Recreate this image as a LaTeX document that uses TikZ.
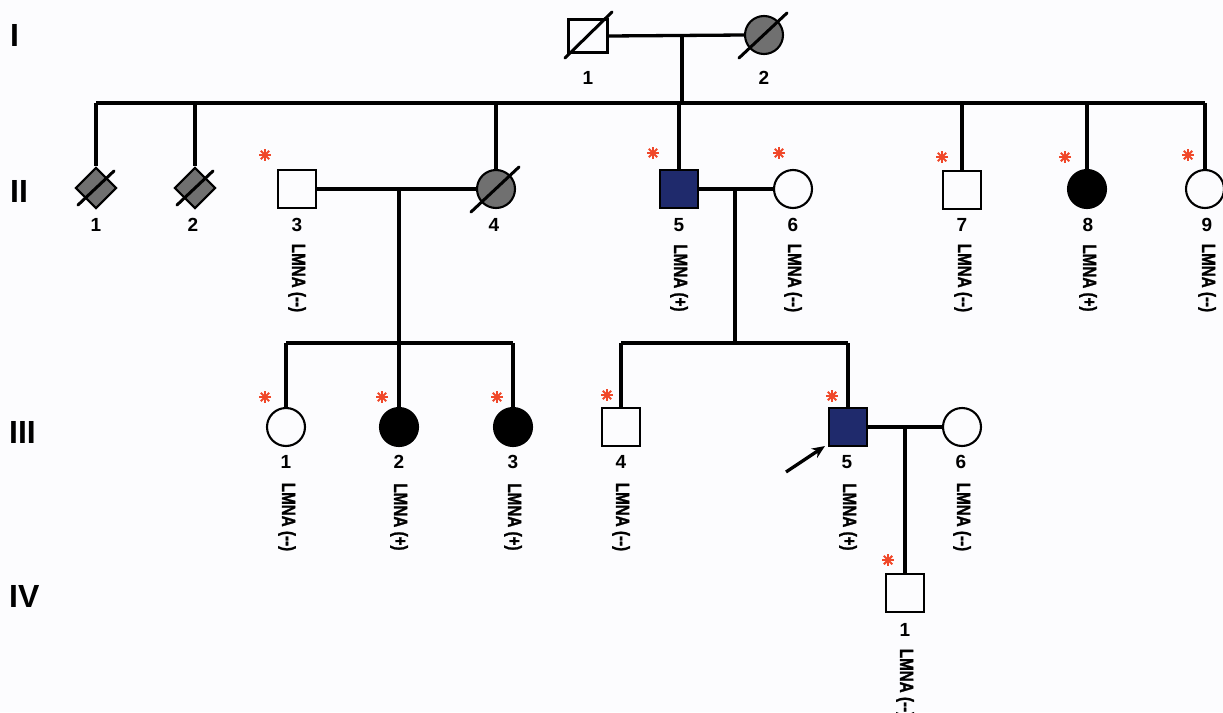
\documentclass[tikz,border=0pt]{standalone}
\usepackage{fontspec}
\setmainfont{Liberation Sans}
\newfontfamily\genofont{Liberation Sans}[BoldFeatures={FakeBold=1.5}]
\usepackage{graphicx}
\usetikzlibrary{shapes.geometric,arrows.meta}
\definecolor{bg}{HTML}{FCFCFE}
\definecolor{affgray}{HTML}{707070}
\definecolor{navy}{HTML}{1F2A6C}
\definecolor{starred}{HTML}{F0482A}
\newcommand\lmna[1]{\scalebox{0.8}[1]{LMNA (#1)}}
\tikzset{
  person/.style={draw, inner sep=0pt, line width=2.1pt, fill=bg},
  male/.style={person, rectangle, minimum width=38pt, minimum height=38pt},
  female/.style={person, circle, minimum size=38pt},
  sexunk/.style={person, diamond, minimum size=41pt, fill=affgray},
  link/.style={line width=3.3pt},
  slash/.style={line width=3pt, line cap=round},
  idnum/.style={font=\fontsize{19}{19}\selectfont\bfseries, inner sep=0pt},
  gen/.style={font=\fontsize{32}{32}\selectfont\bfseries, anchor=west, inner sep=0pt},
  geno/.style={rotate=-90, font=\genofont\fontsize{19}{19}\selectfont\bfseries, inner sep=0pt},
  redstar/.pic={\foreach \a in {0,45,90,135}
    \draw[starred, line width=2.1pt] (\a:6pt) -- (\a+180:6pt);}
}
\begin{document}
\begin{tikzpicture}[x=1pt, y=-1pt]
\useasboundingbox (0,0) rectangle (1223,712);
\fill[bg] (0,0) rectangle (1223,712);
\clip (0,0) rectangle (1223,712);

% generation labels
\node[gen] (gI)   at (10,35)  {I};
\node[gen] (gII)  at (10,191) {II};
\node[gen] (gIII) at (9,432)  {III};
\node[gen] (gIV)  at (9,596)  {IV};

% generation I
\node[male, minimum width=39pt, minimum height=33pt] (I1) at (588,36) {};
\node[female, fill=affgray] (I2) at (764,35) {};
\node[idnum] (nI1) at (588,78) {1};
\node[idnum] (nI2) at (764,78) {2};

% generation II
\node[sexunk] (II1) at (96,188) {};
\node[sexunk] (II2) at (195,188) {};
\node[male] (II3) at (297,189) {};
\node[female, fill=affgray] (II4) at (496,189) {};
\node[male, fill=navy] (II5) at (679,189) {};
\node[female] (II6) at (793,189) {};
\node[male] (II7) at (962,190) {};
\node[female, fill=black] (II8) at (1087,189) {};
\node[female] (II9) at (1205,189) {};

% generation III
\node[female] (III1) at (286,427) {};
\node[female, fill=black] (III2) at (399,427) {};
\node[female, fill=black] (III3) at (513,427) {};
\node[male] (III4) at (621,427) {};
\node[male, fill=navy] (III5) at (848,427) {};
\node[female] (III6) at (962,427) {};

% generation IV
\node[male] (IV1) at (905,593) {};

% marriages and descent
\coordinate (dI) at (682,35);
\coordinate (sI) at (682,103);
\draw[link] (I1.east) -- (I2.west);
\draw[link] (dI) -- (sI);
\draw[link] (II1.north |- sI) -- (II9.north |- sI);
\foreach \p in {II1,II2,II4,II5,II7,II8,II9}
  \draw[link] (\p.north |- sI) -- (\p.north);

\coordinate (dA) at (399,189);
\coordinate (sA) at (399,343);
\draw[link] (II3.east) -- (II4.west);
\draw[link] (dA) -- (sA);
\draw[link] (III1.north |- sA) -- (III3.north |- sA);
\foreach \p in {III1,III2,III3}
  \draw[link] (\p.north |- sA) -- (\p.north);

\coordinate (dB) at (735,189);
\coordinate (sB) at (735,343);
\draw[link] (II5.east) -- (II6.west);
\draw[link] (dB) -- (sB);
\draw[link] (III4.north |- sB) -- (III5.north |- sB);
\foreach \p in {III4,III5}
  \draw[link] (\p.north |- sB) -- (\p.north);

\coordinate (dC) at (905,427);
\draw[link] (III5.east) -- (III6.west);
\draw[link] (dC) -- (IV1.north);

% deceased marks
\draw[slash] ([shift={(-23,22)}]I1.center) -- ([shift={(24,-24)}]I1.center);
\draw[slash] ([shift={(-25,23)}]I2.center) -- ([shift={(23,-22)}]I2.center);
\draw[slash] ([shift={(-25,23)}]II4.center) -- ([shift={(23,-22)}]II4.center);
\draw[slash] ([shift={(-18,17)}]II1.center) -- ([shift={(18,-17)}]II1.center);
\draw[slash] ([shift={(-18,17)}]II2.center) -- ([shift={(18,-17)}]II2.center);

% proband
\coordinate (ptr) at (786,472);
\draw[line width=3.3pt, -{Stealth[length=13pt,width=11pt]}] (ptr) -- ([xshift=-3pt,yshift=1pt]III5.south west);

% individual numbers
\foreach \p/\t/\x in {II1/1/96, II2/2/193, II3/3/297, II4/4/494, II5/5/679, II6/6/793, II7/7/962, II8/8/1088, II9/9/1207}
  \node[idnum] (n\p) at (\x,225) {\t};
\foreach \p/\t/\x in {III1/1/286, III2/2/399, III3/3/513, III4/4/621, III5/5/847, III6/6/961}
  \node[idnum] (n\p) at (\x,462) {\t};
\node[idnum] (nIV1) at (905,630) {1};

% genotypes
\foreach \p/\s/\x in {II3/--/297, II5/+/679, II6/--/793, II7/--/963, II8/+/1088, II9/--/1207}
  \node[geno] (g\p) at (\x,278) {\lmna{\s}};
\foreach \p/\s/\x in {III1/--/287, III2/+/399, III3/+/513, III4/--/621, III5/+/848, III6/--/962}
  \node[geno] (g\p) at (\x,517) {\lmna{\s}};
\node[geno] (gIV1) at (905,683) {\lmna{--}};

% tested individuals
\foreach \x/\y in {265/155, 653/153, 779/153, 942/157, 1065/157, 1188/155,
                   265/397, 382/397, 497/397, 607/395, 832/396, 888/560}
  \pic at (\x,\y) {redstar};
\end{tikzpicture}
\end{document}
